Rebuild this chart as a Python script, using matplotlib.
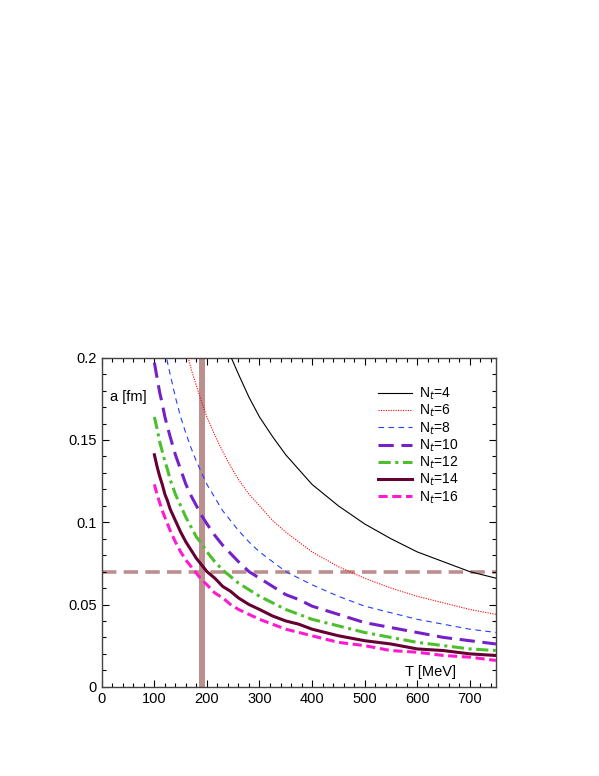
import numpy as np
import matplotlib
matplotlib.use('Agg')
import matplotlib.pyplot as plt
from matplotlib.ticker import MultipleLocator

plt.rcParams['font.family'] = ['Liberation Sans', 'DejaVu Sans']

T = [100, 105, 110, 115, 120, 125, 130, 140, 150, 160, 170, 180, 190, 200, 215, 230,
     245, 260, 280, 300, 325, 350, 375, 400, 450, 500, 550, 600, 650, 700, 750]

a_nt4 = [0.493, 0.470, 0.448, 0.429, 0.411, 0.395, 0.379, 0.352, 0.329, 0.308, 0.290, 0.274,
         0.260, 0.247, 0.229, 0.214, 0.201, 0.190, 0.176, 0.164, 0.152, 0.141, 0.132, 0.123,
         0.110, 0.099, 0.090, 0.082, 0.076, 0.070, 0.066]
a_nt6 = [0.329, 0.313, 0.299, 0.286, 0.274, 0.263, 0.253, 0.235, 0.219, 0.206, 0.193, 0.183,
         0.173, 0.164, 0.153, 0.143, 0.134, 0.126, 0.117, 0.110, 0.101, 0.094, 0.088, 0.082,
         0.073, 0.066, 0.060, 0.055, 0.051, 0.047, 0.044]
a_nt8 = [0.247, 0.235, 0.224, 0.214, 0.206, 0.197, 0.190, 0.176, 0.164, 0.154, 0.145, 0.137,
         0.130, 0.123, 0.115, 0.107, 0.101, 0.095, 0.088, 0.082, 0.076, 0.070, 0.066, 0.062,
         0.055, 0.049, 0.045, 0.041, 0.038, 0.035, 0.033]
a_nt10 = [0.197, 0.188, 0.179, 0.172, 0.164, 0.158, 0.152, 0.141, 0.132, 0.123, 0.116, 0.110,
          0.104, 0.099, 0.092, 0.086, 0.081, 0.076, 0.070, 0.066, 0.061, 0.056, 0.053, 0.049,
          0.044, 0.039, 0.036, 0.033, 0.030, 0.028, 0.026]
a_nt12 = [0.164, 0.157, 0.149, 0.143, 0.137, 0.132, 0.126, 0.117, 0.110, 0.103, 0.097, 0.091,
          0.087, 0.082, 0.076, 0.071, 0.067, 0.063, 0.059, 0.055, 0.051, 0.047, 0.044, 0.041,
          0.037, 0.033, 0.030, 0.027, 0.025, 0.023, 0.022]
a_nt14 = [0.141, 0.134, 0.128, 0.123, 0.117, 0.113, 0.108, 0.101, 0.094, 0.088, 0.083, 0.078,
          0.074, 0.070, 0.066, 0.061, 0.058, 0.054, 0.050, 0.047, 0.043, 0.040, 0.038, 0.035,
          0.031, 0.028, 0.026, 0.023, 0.022, 0.020, 0.019]
a_nt16 = [0.123, 0.117, 0.112, 0.107, 0.103, 0.099, 0.095, 0.088, 0.082, 0.077, 0.073, 0.069,
          0.065, 0.062, 0.057, 0.054, 0.050, 0.047, 0.044, 0.041, 0.038, 0.035, 0.033, 0.031,
          0.027, 0.025, 0.022, 0.021, 0.019, 0.018, 0.016]

Tc_lo, Tc_hi = 184, 197
a_line = 0.07

fig = plt.figure(figsize=(5.99, 7.76), dpi=100)
ax = fig.add_axes([0.170, 0.115, 0.658, 0.424])

ax.axvspan(Tc_lo, Tc_hi, color='#bc8f8f', lw=0, zorder=1)
ax.axhline(a_line, color='#bc8f8f', lw=2.6, dashes=(4, 2), zorder=1)

ax.plot(T, a_nt4, color='black', lw=0.8, label='N$_t$=4', zorder=3)
ax.plot(T, a_nt6, color='red', lw=0.8, ls=(0, (1, 1.2)), label='N$_t$=6', zorder=3)
ax.plot(T, a_nt8, color='#2040ff', lw=0.8, ls=(0, (5, 4)), label='N$_t$=8', zorder=3)
ax.plot(T, a_nt10, color='#7422c8', lw=2.2, ls=(0, (5, 2.5)), label='N$_t$=10', zorder=3)
ax.plot(T, a_nt12, color='#4cc02c', lw=2.2, ls=(0, (4, 1.5, 1, 1.5)), label='N$_t$=12', zorder=3)
ax.plot(T, a_nt14, color='#660033', lw=2.2, label='N$_t$=14', zorder=3)
ax.plot(T, a_nt16, color='#ff19d0', lw=2.2, ls=(0, (3, 1.5)), label='N$_t$=16', zorder=3)

ax.set_xlim(0, 750)
ax.set_ylim(0, 0.2)
ax.xaxis.set_major_locator(MultipleLocator(100))
ax.xaxis.set_minor_locator(MultipleLocator(20))
ax.yaxis.set_minor_locator(MultipleLocator(0.01))
ax.set_yticks([0, 0.05, 0.1, 0.15, 0.2])
ax.set_yticklabels(['0', '0.05', '0.1', '0.15', '0.2'])
ax.tick_params(which='both', direction='in', top=True, right=True, labelsize=10.5, width=0.8)
ax.tick_params(which='major', length=5)
ax.tick_params(which='minor', length=3)
for s in ax.spines.values():
    s.set_color('#444444')
    s.set_linewidth(1.0)

ax.text(15, 0.176, 'a [fm]', fontsize=10.5, va='center', ha='left')
ax.text(577, 0.009, 'T [MeV]', fontsize=10.5, va='center', ha='left')

ax.legend(loc='upper left', frameon=False, fontsize=10, handlelength=2.45,
          handletextpad=0.55, labelspacing=0.06, borderaxespad=0, borderpad=0,
          bbox_to_anchor=(0.70, 0.915))

fig.savefig('out.png', dpi=100)
